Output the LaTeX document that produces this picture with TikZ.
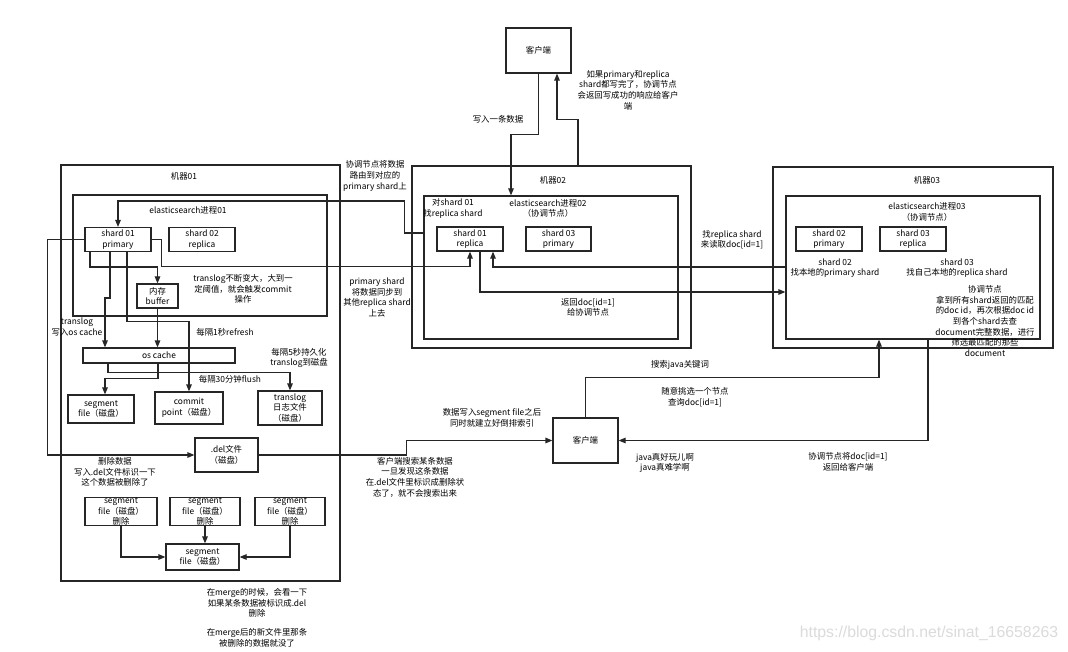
\documentclass[tikz,border=0pt]{standalone}
\usepackage{fontspec}
\setmainfont{Noto Sans CJK SC}
\newfontfamily\wmfont{Liberation Sans}
\usetikzlibrary{arrows.meta}
\newcommand\dfont{\fontsize{8.4}{10.6}\selectfont}
\begin{document}
\begin{tikzpicture}[x=1pt,y=-1pt,
  box/.style={draw=black!85, line width=1.2pt, inner sep=0pt, align=center, font=\dfont},
  lbl/.style={inner sep=0pt, align=center, font=\dfont},
  conn/.style={line width=1.2pt, draw=black!85},
  arr/.style={conn, -{Triangle[length=7pt,width=5.5pt]}}]
\fill[white] (0,0) rectangle (1068,652);
\useasboundingbox (0,0) rectangle (1068,652);

% containers
\node[box, minimum width=279pt, minimum height=416pt] (m01) at (200.5,373) {};
\node[box, minimum width=254pt, minimum height=121pt] (es01) at (200,255.5) {};
\node[box, minimum width=279pt, minimum height=182pt] (m02) at (551.5,257) {};
\node[box, minimum width=254pt, minimum height=143pt] (es02) at (551,267.5) {};
\node[box, minimum width=280pt, minimum height=181pt] (m03) at (913,257.5) {};
\node[box, minimum width=254pt, minimum height=143pt] (es03) at (913,267.5) {};
\node[box, minimum width=65pt, minimum height=45pt] (cli1) at (538.5,50.5) {客户端};
\node[box, minimum width=65pt, minimum height=45pt] (cli2) at (585.5,440.5) {客户端};

% shards and files
\node[box, minimum width=66pt, minimum height=24pt] (s01p) at (118,239.5) {shard 01\\primary};
\node[box, minimum width=66pt, minimum height=24pt] (s02r) at (202,239.5) {shard 02\\replica};
\node[box, minimum width=66pt, minimum height=24pt] (s01r) at (470,239) {shard 01\\replica};
\node[box, minimum width=65pt, minimum height=24pt] (s03p) at (558.5,239) {shard 03\\primary};
\node[box, minimum width=66pt, minimum height=24pt] (s02p) at (829,239) {shard 02\\primary};
\node[box, minimum width=66pt, minimum height=24pt] (s03r) at (913,239) {shard 03\\replica};
\node[box, minimum width=41pt, minimum height=24pt] (buf) at (157.5,296) {内存\\buffer};
\node[box, minimum width=152pt, minimum height=15pt] (osc) at (159,355.5) {os cache};
\node[box, minimum width=66pt, minimum height=28pt] (seg) at (101,409) {segment\\file（磁盘）};
\node[box, minimum width=68pt, minimum height=32pt] (cp) at (189,408) {commit\\point（磁盘）};
\node[box, minimum width=64pt, minimum height=34pt] (tl) at (290,408) {translog\\日志文件\\（磁盘）};
\node[box, minimum width=63pt, minimum height=34pt] (del) at (226.5,455) {.del文件\\（磁盘）};
\node[box, minimum width=72pt, minimum height=27pt] (sg1) at (121,511.5) {segment\\file（磁盘）\\删除};
\node[box, minimum width=70pt, minimum height=27pt] (sg2) at (205,511.5) {segment\\file（磁盘）\\删除};
\node[box, minimum width=70pt, minimum height=27pt] (sg3) at (290,511.5) {segment\\file（磁盘）\\删除};
\node[box, minimum width=73pt, minimum height=26pt] (sgm) at (202.5,557) {segment\\file（磁盘）};

% labels
\node[lbl] (t1) at (498,119) {写入一条数据};
\node[lbl] (t2) at (628,90) {如果primary和replica\\shard都写完了，协调节点\\会返回写成功的响应给客户\\端};
\node[lbl] (t3) at (184,176) {机器01};
\node[lbl] (t4) at (188,210) {elasticsearch进程01};
\node[lbl] (t5) at (243,289) {translog不断变大，大到一\\定阈值，就会触发commit\\操作};
\node[lbl] (t6) at (77,327) {translog\\写入os cache};
\node[lbl] (t7) at (225,332) {每隔1秒refresh};
\node[lbl] (t8) at (299,358) {每隔5秒持久化\\translog到磁盘};
\node[lbl] (t9) at (230,379) {每隔30分钟flush};
\node[lbl] (t10) at (115,472) {删除数据\\写入.del文件标识一下\\这个数据被删除了};
\node[lbl] (t11) at (257,603) {在merge的时候，会看一下\\如果某条数据被标识成.del\\删除};
\node[lbl] (t12) at (257,637.5) {在merge后的新文件里那条\\被删除的数据就没了};
\node[lbl] (t13) at (375,176) {协调节点将数据\\路由到对应的\\primary shard上};
\node[lbl] (t14) at (377,297.5) {primary shard\\将数据同步到\\其他replica shard\\上去};
\node[lbl] (t15) at (553,180) {机器02};
\node[lbl] (t16) at (453,208.5) {对shard 01\\找replica shard};
\node[lbl] (t17) at (548,208.5) {elasticsearch进程02\\（协调节点）};
\node[lbl] (t18) at (588,307.5) {返回doc[id=1]\\给协调节点};
\node[lbl] (t19) at (732,239.5) {找replica shard\\来读取doc[id=1]};
\node[lbl] (t20) at (927,180) {机器03};
\node[lbl] (t21) at (927,212) {elasticsearch进程03\\（协调节点）};
\node[lbl] (t22) at (835,268) {shard 02\\找本地的primary shard};
\node[lbl] (t23) at (957,268) {shard 03\\找自己本地的replica shard};
\node[lbl] (t24) at (985,321) {协调节点\\拿到所有shard返回的匹配\\的doc id，再次根据doc id\\到各个shard去查\\document完整数据，进行\\筛选最匹配的那些\\document};
\node[lbl] (t25) at (492,418) {数据写入segment file之后\\同时就建立好倒排索引};
\node[lbl] (t26) at (415,477) {客户端搜索某条数据\\一旦发现这条数据\\在.del文件里标识成删除状\\态了，就不会搜索出来};
\node[lbl] (t27) at (680,365) {搜索java关键词};
\node[lbl] (t28) at (695,397) {随意挑选一个节点\\查询doc[id=1]};
\node[lbl] (t29) at (665,463) {java真好玩儿啊\\java真难学啊};
\node[lbl] (t30) at (848,462) {协调节点将doc[id=1]\\返回给客户端};
\node[inner sep=0pt, font=\wmfont\fontsize{15.8}{18}\selectfont, text=black!14] (wm) at (929,633) {https://blog.csdn.net/sinat\_16658263};

% connectors
\draw[arr] (cli1.south) -- ++(0,61) -- ++(-27.5,0) -- ([xshift=-40pt]es02.north);
\draw[arr] ([xshift=26.5pt]m02.north) -- ++(0,-46) -- ++(-21,0) -- ([xshift=18.5pt]cli1.south);
\draw[arr] ([yshift=34.5pt]es02.west) -- ++(-19,0) -- ++(0,-32) -| (s01p.north);
\draw[arr] (s01p.east) -- ++(10,0) -- ++(0,27) -| (s01r.south);
\draw[arr] ([yshift=0.5pt]es03.west) -| ([xshift=23pt]s01r.south);
\draw[arr] ([xshift=10pt]s01r.south) |- ([yshift=-24.5pt]es03.west);
\draw[arr] ([xshift=-28pt]s01p.south) -- ++(0,15) -| (buf.north);
\draw[arr] ([xshift=-8pt]s01p.south) -- ++(0,46) -- ++(-5,0) -- ([xshift=-54pt]osc.north);
\draw[arr] ([xshift=9pt]s01p.south) -- ++(0,69) -| (cp.north);
\draw[arr] (buf.south) -- (buf.south |- osc.north);
\draw[arr] ([xshift=-51pt]osc.south) -- ++(0,9) -| (tl.north);
\draw[arr] ([xshift=-1pt]osc.south) -- ++(0,15) -| ([xshift=4pt]seg.north);
\draw[arr] (s01p.west) -- ++(-37,0) |- (del.west);
\draw[arr] (del.east) -- ++(148,0) |- (cli2.west);
\draw[arr] (sg1.south) |- (sgm.west);
\draw[arr] (sg2.south) -- (sg2.south |- sgm.north);
\draw[arr] (sg3.south) |- (sgm.east);
\draw[arr] (cli2.north) -- ++(0,-40) -| ([xshift=-34pt]es03.south);
\draw[arr] ([xshift=15pt]es03.south) |- (cli2.east);
\end{tikzpicture}
\end{document}
